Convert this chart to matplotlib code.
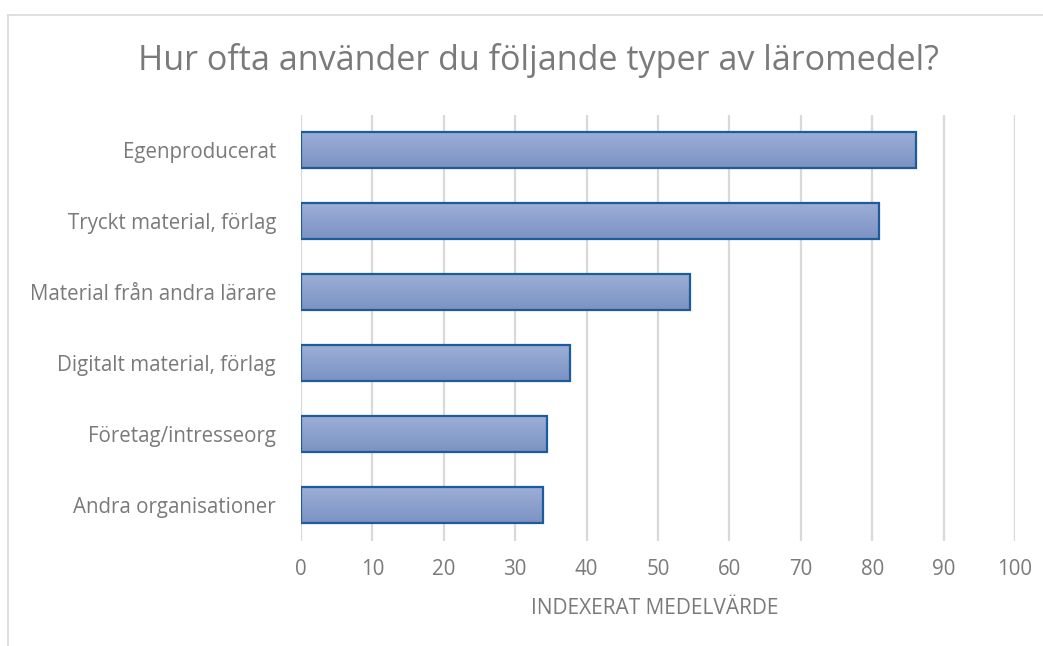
import numpy as np
import matplotlib
matplotlib.use("Agg")
import matplotlib.pyplot as plt
from matplotlib.lines import Line2D

plt.rcParams['font.family'] = ['Open Sans', 'DejaVu Sans']

categories = ['Egenproducerat', 'Tryckt material, förlag', 'Material från andra lärare',
              'Digitalt material, förlag', 'Företag/intresseorg', 'Andra organisationer']
values = [86.2, 80.9, 54.5, 37.7, 34.5, 33.9]
xticks = [0, 10, 20, 30, 40, 50, 60, 70, 80, 90, 100]

W, H = 1043, 646
fig = plt.figure(figsize=(W / 100, H / 100), dpi=100)
ax = fig.add_axes([301 / W, 1 - 540.5 / H, (1015 - 301) / W, (540.5 - 114.5) / H])

gray = '#7a7a7a'
y = np.arange(len(categories))[::-1]

# gradient image used as bar fill
grad = np.linspace(0, 1, 64).reshape(-1, 1)
cmap = matplotlib.colors.LinearSegmentedColormap.from_list('g', ['#9BAED6', '#7C93C3'])

bars = ax.barh(y, values, height=0.5, color='none', edgecolor='#1C5B9C', linewidth=1.6, zorder=3)
for b in bars:
    x0, y0 = b.get_x(), b.get_y()
    w, h = b.get_width(), b.get_height()
    ax.imshow(grad, cmap=cmap, aspect='auto', extent=[x0, x0 + w, y0, y0 + h],
              origin='upper', zorder=2, interpolation='bilinear')

ax.set_xlim(0, 100)
ax.set_ylim(-0.5, len(categories) - 0.5)
ax.set_xticks(xticks)
ax.set_yticks(y)
ax.set_yticklabels(categories)
ax.tick_params(axis='both', length=0, colors=gray, labelsize=14.8)
ax.tick_params(axis='x', pad=13)
ax.tick_params(axis='y', pad=18)
ax.grid(axis='x', color='#D9D9D9', linewidth=1.6, zorder=0)
ax.set_axisbelow(True)
for s in ax.spines.values():
    s.set_visible(False)

fig.text(538 / W, 1 - 60 / H, 'Hur ofta använder du följande typer av läromedel?',
         ha='center', va='center', fontsize=24.6, color=gray)
fig.text(655 / W, 1 - 609 / H, 'INDEXERAT MEDELVÄRDE', ha='center', va='center',
         fontsize=15, color=gray)

# chart area border
fig.add_artist(Line2D([8 / W, 8 / W], [0, 1 - 15 / H], transform=fig.transFigure,
                      color='#D9D9D9', linewidth=1.2))
fig.add_artist(Line2D([8 / W, 1], [1 - 15 / H, 1 - 15 / H], transform=fig.transFigure,
                      color='#D9D9D9', linewidth=1.2))

fig.savefig('out.png', dpi=100)
